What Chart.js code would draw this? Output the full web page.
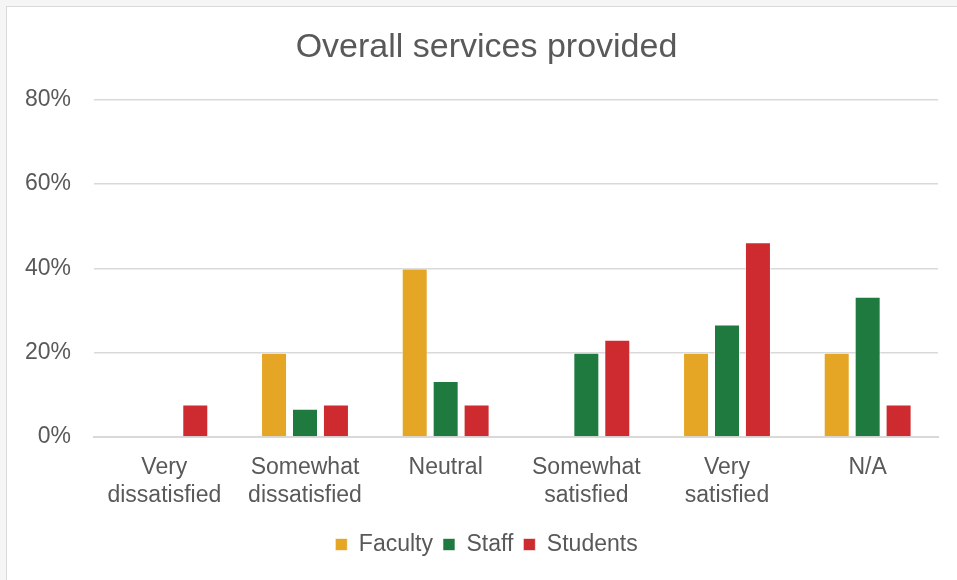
<!DOCTYPE html>
<html lang="en">
  <head>
    <meta charset="UTF-8" />
    <title>Overall services provided</title>
    <style>
      body {
        margin: 0;
        background: #f5f5f5;
        font-family: "Liberation Sans", Arial, sans-serif;
        overflow: hidden;
      }
      .chartBox {
        position: absolute;
        left: 6px;
        top: 6px;
        width: 960px;
        height: 580px;
        background: #ffffff;
        border: 1px solid #d9d9d9;
      }
      #chart {
        width: 959px;
        height: 573px;
      }
    </style>
    <script src="https://cdn.jsdelivr.net/npm/chart.js"></script>
  </head>
  <body>
    <div class="chartBox">
      <canvas id="chart" width="959" height="573"></canvas>
    </div>
    <script>
      const categories = [
        ["Very", "dissatisfied"],
        ["Somewhat", "dissatisfied"],
        ["Neutral"],
        ["Somewhat", "satisfied"],
        ["Very", "satisfied"],
        ["N/A"],
      ];
      const faculty = [0, 20, 40, 0, 20, 20];
      const staff = [0, 6.7, 13.3, 20, 26.7, 33.3];
      const students = [7.7, 7.7, 7.7, 23.1, 46.2, 7.7];

      const textColor = "#595959";
      const gridColor = "#d9d9d9";

      function barSet(label, data, color) {
        return {
          label: label,
          data: data,
          backgroundColor: color,
          borderColor: "rgba(255,255,255,0.6)",
          borderWidth: 1,
          categoryPercentage: 0.66,
          barPercentage: 0.84,
        };
      }

      const ctx = document.getElementById("chart").getContext("2d");
      new Chart(ctx, {
        type: "bar",
        data: {
          labels: categories,
          datasets: [
            barSet("Faculty", faculty, "#e5a625"),
            barSet("Staff", staff, "#1e7a3e"),
            barSet("Students", students, "#cd2b30"),
          ],
        },
        options: {
          responsive: false,
          animation: false,
          layout: { padding: { top: 20, right: 0, left: 0, bottom: 14 } },
          plugins: {
            title: {
              display: true,
              text: "Overall services provided",
              color: textColor,
              font: { family: "Liberation Sans", size: 34, weight: "normal" },
              padding: { top: 0, bottom: 32 },
            },
            legend: {
              position: "bottom",
              labels: {
                color: textColor,
                font: { family: "Liberation Sans", size: 23 },
                boxWidth: 12,
                boxHeight: 12,
                padding: 10,
              },
            },
            tooltip: { enabled: false },
          },
          scales: {
            x: {
              grid: { display: false },
              border: { display: true, color: gridColor, width: 2 },
              afterFit: function (scale) {
                scale.height = 86;
              },
              ticks: {
                color: textColor,
                padding: 9,
                font: { family: "Liberation Sans", size: 23, lineHeight: 1.2 },
                maxRotation: 0,
                autoSkip: false,
              },
            },
            y: {
              min: 0,
              max: 80,
              afterFit: function (scale) {
                scale.width = 87;
              },
              grid: { color: gridColor, lineWidth: 1.5, drawTicks: false },
              border: { display: false },
              ticks: {
                stepSize: 20,
                color: textColor,
                padding: 23,
                font: { family: "Liberation Sans", size: 23 },
                callback: function (v) {
                  return v + "%";
                },
              },
            },
            // empty right-hand spacer so the title and legend stay centred on the whole chart
            spacer: {
              position: "right",
              min: 0,
              max: 80,
              afterFit: function (scale) {
                scale.width = 28;
              },
              grid: { display: false },
              border: { display: false },
              ticks: { display: false },
            },
          },
        },
      });
    </script>
  </body>
</html>
